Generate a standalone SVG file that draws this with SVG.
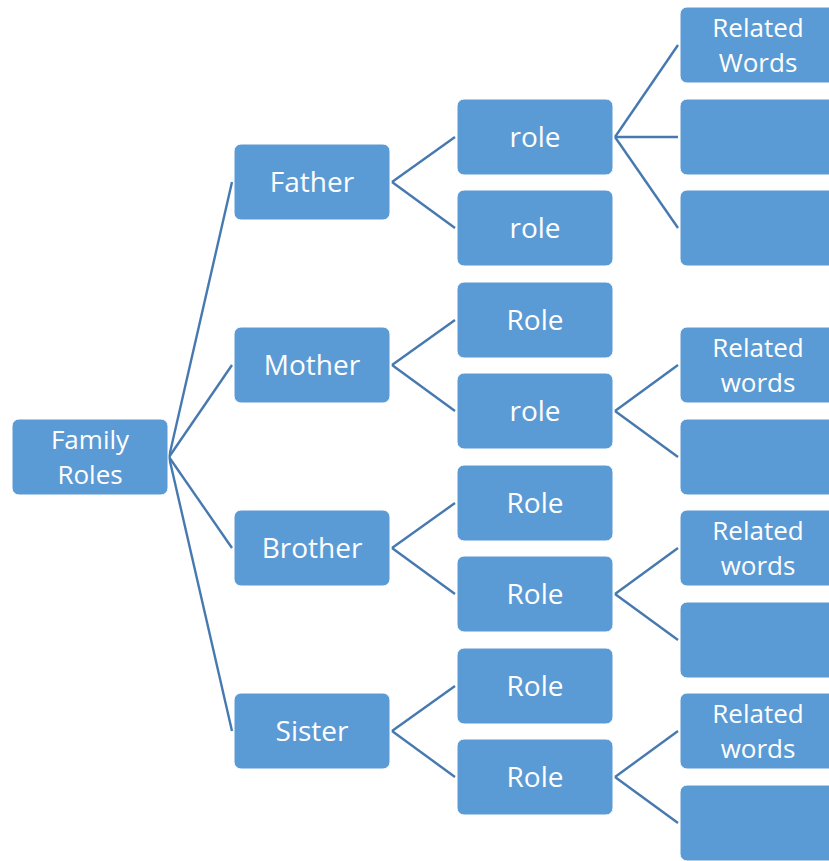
<svg xmlns="http://www.w3.org/2000/svg" width="829" height="861" viewBox="0 0 829 861">
<style>
.n rect{fill:#5B9BD5;stroke:#FFFFFF;stroke-width:1}
.n text{fill:#FFFFFF;font-family:"Open Sans","Liberation Sans",sans-serif;font-size:28px;text-anchor:middle;dominant-baseline:central}
.n text.two{font-size:26px}
#edges line{stroke:#4679B0;stroke-width:2.4;fill:none}
</style>
<rect width="829" height="861" fill="#FFFFFF"/>
<g id="edges">
<line x1="169" y1="457" x2="232" y2="182"/>
<line x1="169" y1="457" x2="232" y2="365"/>
<line x1="169" y1="457" x2="232" y2="548"/>
<line x1="169" y1="457" x2="232" y2="731"/>
<line x1="392" y1="182" x2="455" y2="137"/>
<line x1="392" y1="182" x2="455" y2="228"/>
<line x1="392" y1="365" x2="455" y2="320"/>
<line x1="392" y1="365" x2="455" y2="411"/>
<line x1="392" y1="548" x2="455" y2="503"/>
<line x1="392" y1="548" x2="455" y2="594"/>
<line x1="392" y1="731" x2="455" y2="686"/>
<line x1="392" y1="731" x2="455" y2="777"/>
<line x1="615" y1="137" x2="678" y2="45"/>
<line x1="615" y1="137" x2="678" y2="137"/>
<line x1="615" y1="137" x2="678" y2="228"/>
<line x1="615" y1="411" x2="678" y2="365"/>
<line x1="615" y1="411" x2="678" y2="457"/>
<line x1="615" y1="594" x2="678" y2="548"/>
<line x1="615" y1="594" x2="678" y2="640"/>
<line x1="615" y1="777" x2="678" y2="731"/>
<line x1="615" y1="777" x2="678" y2="823"/>
</g>
<g id="family-roles" class="n"><rect x="12" y="419" width="156" height="76" rx="7"/><text class="two" x="90" y="439">Family</text><text class="two" x="90" y="474">Roles</text></g>
<g id="father" class="n"><rect x="234" y="144" width="156" height="76" rx="7"/><text x="312" y="181">Father</text></g>
<g id="mother" class="n"><rect x="234" y="327" width="156" height="76" rx="7"/><text x="312" y="364">Mother</text></g>
<g id="brother" class="n"><rect x="234" y="510" width="156" height="76" rx="7"/><text x="312" y="547">Brother</text></g>
<g id="sister" class="n"><rect x="234" y="693" width="156" height="76" rx="7"/><text x="312" y="730">Sister</text></g>
<g id="father-role-1" class="n"><rect x="457" y="99" width="156" height="76" rx="7"/><text x="535" y="136">role</text></g>
<g id="father-role-2" class="n"><rect x="457" y="190" width="156" height="76" rx="7"/><text x="535" y="227">role</text></g>
<g id="mother-role-1" class="n"><rect x="457" y="282" width="156" height="76" rx="7"/><text x="535" y="319">Role</text></g>
<g id="mother-role-2" class="n"><rect x="457" y="373" width="156" height="76" rx="7"/><text x="535" y="410">role</text></g>
<g id="brother-role-1" class="n"><rect x="457" y="465" width="156" height="76" rx="7"/><text x="535" y="502">Role</text></g>
<g id="brother-role-2" class="n"><rect x="457" y="556" width="156" height="76" rx="7"/><text x="535" y="593">Role</text></g>
<g id="sister-role-1" class="n"><rect x="457" y="648" width="156" height="76" rx="7"/><text x="535" y="685">Role</text></g>
<g id="sister-role-2" class="n"><rect x="457" y="739" width="156" height="76" rx="7"/><text x="535" y="776">Role</text></g>
<g id="father-related-1" class="n"><rect x="680" y="7" width="156" height="76" rx="7"/><text class="two" x="758" y="27">Related</text><text class="two" x="758" y="62">Words</text></g>
<g id="father-related-2" class="n"><rect x="680" y="99" width="156" height="76" rx="7"/></g>
<g id="father-related-3" class="n"><rect x="680" y="190" width="156" height="76" rx="7"/></g>
<g id="mother-related-1" class="n"><rect x="680" y="327" width="156" height="76" rx="7"/><text class="two" x="758" y="347">Related</text><text class="two" x="758" y="382">words</text></g>
<g id="mother-related-2" class="n"><rect x="680" y="419" width="156" height="76" rx="7"/></g>
<g id="brother-related-1" class="n"><rect x="680" y="510" width="156" height="76" rx="7"/><text class="two" x="758" y="530">Related</text><text class="two" x="758" y="565">words</text></g>
<g id="brother-related-2" class="n"><rect x="680" y="602" width="156" height="76" rx="7"/></g>
<g id="sister-related-1" class="n"><rect x="680" y="693" width="156" height="76" rx="7"/><text class="two" x="758" y="713">Related</text><text class="two" x="758" y="748">words</text></g>
<g id="sister-related-2" class="n"><rect x="680" y="785" width="156" height="76" rx="7"/></g>
</svg>
